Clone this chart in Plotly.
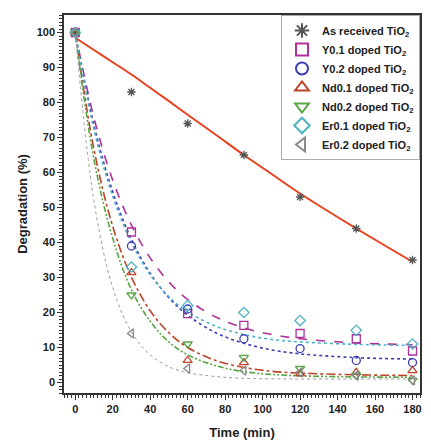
import plotly.graph_objects as go

# measured points
t_pts = [0, 30, 60, 90, 120, 150, 180]
as_received = [100, 83, 74, 65, 53, 44, 35]
y01 = [100, 43, 19.7, 16.3, 14, 12.5, 9]
y02 = [100, 39, 21, 12.5, 9.7, 6.3, 5.7]
nd01 = [100, 31.4, 6.3, 5.7, 2.5, 2.9, 3.4]
nd02 = [100, 25, 11, 7.2, 4, 2, 0.6]
er01 = [100, 33, 22, 20, 17.7, 14.9, 11]
er02 = [100, 14, 4, 3.4, 2.9, 2, 0.6]

# fitted curves
t_fit = [0, 10, 20, 30, 40, 50, 60, 75, 90, 105, 120, 150, 180]
fit_as = [98.5, 95, 91.5, 88, 84.2, 80.4, 76.5, 70.8, 65, 59.5, 54, 44, 34.5]
fit_y01 = [100, 75.6, 57.8, 45, 35.6, 28.7, 23.7, 18.7, 15.6, 13.7, 12.5, 11.3, 10.8]
fit_y02 = [100, 73.5, 54.5, 40.9, 31.2, 24.2, 19.2, 14.2, 11.2, 9.3, 8.2, 7.1, 6.7]
fit_nd01 = [100, 66.6, 44.6, 30.1, 20.5, 14.2, 10, 6.3, 4.3, 3.2, 2.7, 2.2, 2]
fit_nd02 = [100, 63.7, 41.2, 26.5, 17.5, 11.6, 7.9, 4.8, 3.1, 2.3, 1.9, 1.6, 1.5]
fit_er01 = [100, 72.3, 53.2, 40, 30.8, 24.5, 20.2, 16.1, 13.7, 12.3, 11.6, 10.9, 10.6]
fit_er02 = [100, 51.8, 27.1, 14.4, 7.9, 4.5, 2.8, 1.7, 1.2, 1.05, 1.0, 1.0, 1.0]

names = ["As received TiO<sub>2</sub>", "Y0.1 doped TiO<sub>2</sub>", "Y0.2 doped TiO<sub>2</sub>",
         "Nd0.1 doped TiO<sub>2</sub>", "Nd0.2 doped TiO<sub>2</sub>", "Er0.1 doped TiO<sub>2</sub>",
         "Er0.2 doped TiO<sub>2</sub>"]
x_ticks = [0, 20, 40, 60, 80, 100, 120, 140, 160, 180]
y_ticks = [0, 10, 20, 30, 40, 50, 60, 70, 80, 90, 100]

series = [
    (as_received, fit_as, "asterisk-open", "#555555", "#e8401c", "solid", 2, 7),
    (y01, fit_y01, "square-open", "#b0309a", "#b0309a", "dash", 1.6, 8),
    (y02, fit_y02, "circle-open", "#3f3fb5", "#3f3fb5", "dot", 1.6, 8),
    (nd01, fit_nd01, "triangle-up-open", "#c0442a", "#c0442a", "dashdot", 1.6, 8),
    (nd02, fit_nd02, "triangle-down-open", "#5aa545", "#5aa545", "6px,2px,2px,2px,2px,2px", 1.6, 8),
    (er01, fit_er01, "diamond-open", "#4fb3c3", "#4fb3c3", "dot", 1.6, 8),
    (er02, fit_er02, "triangle-left-open", "#8a8a8a", "#9a9a9a", "dot", 1, 8),
]

fig = go.Figure()
for (pts, fit, sym, mc, lc, dash, lw, ms) in series:
    fig.add_trace(go.Scatter(x=t_fit, y=fit, mode="lines", line=dict(color=lc, dash=dash, width=lw, shape="spline"),
                             showlegend=False, hoverinfo="skip"))
for (pts, fit, sym, mc, lc, dash, lw, ms), name in zip(series, names):
    fig.add_trace(go.Scatter(x=t_pts, y=pts, mode="markers", name="<b>%s</b>" % name,
                             marker=dict(symbol=sym, size=ms, color=mc, line=dict(width=1.3, color=mc))))

font = "Liberation Sans, Arial, sans-serif"
fig.update_layout(
    width=415, height=440,
    margin=dict(l=56, r=3, t=7, b=55),
    paper_bgcolor="white", plot_bgcolor="white",
    font=dict(family=font, size=11, color="#222"),
    legend=dict(x=1, y=1, xanchor="right", yanchor="top", bgcolor="white",
                bordercolor="#aaaaaa", borderwidth=1,
                font=dict(family=font, size=11, color="#222"),
                tracegroupgap=0, itemsizing="constant", itemwidth=30),
    xaxis=dict(range=[-6, 184], tickvals=x_ticks,
               ticktext=["<b>%d</b>" % v for v in x_ticks], automargin=False,
               ticks="outside", ticklen=5, tickcolor="#333", showline=True, linecolor="#333",
               linewidth=1.5, mirror=True, showgrid=False, zeroline=False,
               minor=dict(dtick=2, ticks="outside", ticklen=3, tickcolor="#333"),
               title=dict(text="<b>Time (min)</b>", font=dict(size=13, family=font), standoff=14)),
    yaxis=dict(range=[-3, 105], tickvals=y_ticks,
               ticktext=["<b>%d</b>" % v for v in y_ticks], automargin=False,
               ticks="outside", ticklen=5, tickcolor="#333", showline=True, linecolor="#333",
               linewidth=1.5, mirror=True, showgrid=False, zeroline=False,
               minor=dict(dtick=1, ticks="outside", ticklen=3, tickcolor="#333"),
               title=dict(text="<b>Degradation (%)</b>", font=dict(size=13, family=font), standoff=6)),
)
fig.write_html("out.html")
